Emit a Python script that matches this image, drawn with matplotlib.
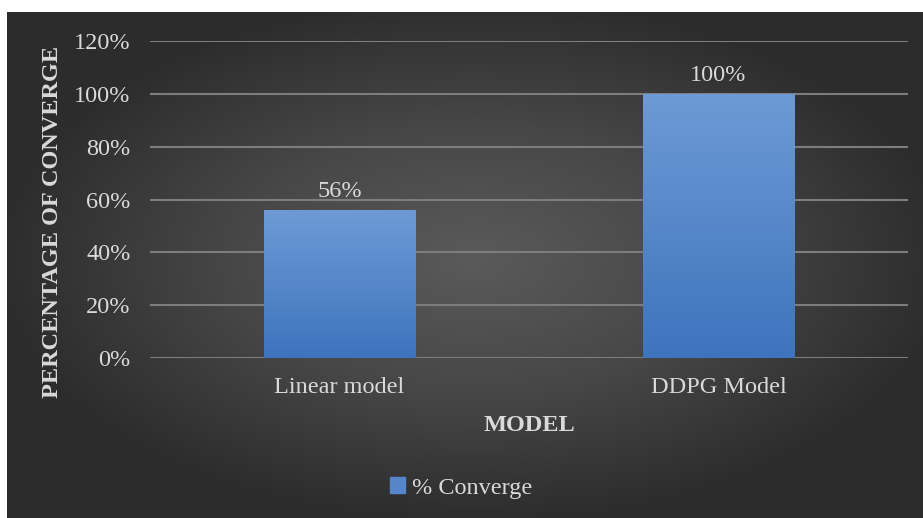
import numpy as np
import matplotlib.pyplot as plt
from matplotlib.colors import LinearSegmentedColormap

plt.rcParams['font.family'] = ['Liberation Serif', 'DejaVu Serif']

models = ['Linear model', 'DDPG Model']
converge = [56, 100]
yticks = [0, 20, 40, 60, 80, 100, 120]

W, H = 923, 518
FS = 17.5
TXT = '#d9d9d9'
fig = plt.figure(figsize=(W / 100, H / 100), dpi=100, facecolor='white')

# dark radial background panel
bg = fig.add_axes([7 / W, 0, (W - 7) / W, (H - 12) / H])
bg.set_axis_off()
gx, gy = np.meshgrid(np.linspace(-1, 1, 400), np.linspace(-1, 1, 240))
r = np.sqrt(((gx - 0.02) / 1.05) ** 2 + ((gy + 0.02) / 1.05) ** 2)
r = np.clip(r, 0, 1)
bgmap = LinearSegmentedColormap.from_list('bg', ['#5a5a5a', '#474747', '#2c2c2c'])
bg.imshow(r, cmap=bgmap, aspect='auto', extent=[0, 1, 0, 1], vmin=0, vmax=1)
bg.set_xlim(0, 1)
bg.set_ylim(0, 1)

ax = fig.add_axes([150 / W, (H - 358) / H, 758 / W, (358 - 41) / H])
ax.patch.set_alpha(0)
x = np.arange(len(models))
bars = ax.bar(x, converge, width=0.4, color='#5585cb', zorder=2)

# vertical gradient inside each bar
barmap = LinearSegmentedColormap.from_list('bar', ['#3d74bd', '#6e9ad6'])
grad = np.linspace(0, 1, 256).reshape(-1, 1)
for b in bars:
    x0, w, h = b.get_x(), b.get_width(), b.get_height()
    im = ax.imshow(grad, cmap=barmap, origin='lower', aspect='auto',
                   extent=[x0, x0 + w, 0, h], zorder=3)
    im.set_clip_path(b)

for xi, v in zip(x, converge):
    ax.text(xi, v + 3, '%d%%' % v, ha='center', va='bottom',
            color=TXT, fontsize=FS)

ax.set_xlim(-0.5, 1.5)
ax.set_ylim(0, 120)
ax.set_yticks(yticks)
ax.set_yticklabels(['%d%%' % t for t in yticks])
ax.set_xticks(x)
ax.set_xticklabels(models)
ax.tick_params(colors=TXT, labelsize=FS, length=0)
ax.tick_params(axis='y', pad=14)
ax.tick_params(axis='x', pad=14)
ax.grid(axis='y', color='#7d7d7d', linewidth=1.5, zorder=0)
ax.set_axisbelow(True)
for s in ax.spines.values():
    s.set_visible(False)

ax.set_xlabel('MODEL', color=TXT, fontsize=FS, fontweight='bold', labelpad=12)
ax.set_ylabel('PERCENTAGE OF CONVERGE', color=TXT, fontsize=FS, fontweight='bold')
ax.yaxis.set_label_coords(-0.115, 0.43)

leg = ax.legend(['% Converge'], loc='center', bbox_to_anchor=(0.5, 30 / H),
                bbox_transform=fig.transFigure, frameon=False, fontsize=FS,
                handlelength=0.6, handleheight=0.6, handletextpad=0.3)
for t in leg.get_texts():
    t.set_color(TXT)
leg.legend_handles[0].set_color('#5585cb')

fig.savefig('out.png', dpi=100, facecolor=fig.get_facecolor())
